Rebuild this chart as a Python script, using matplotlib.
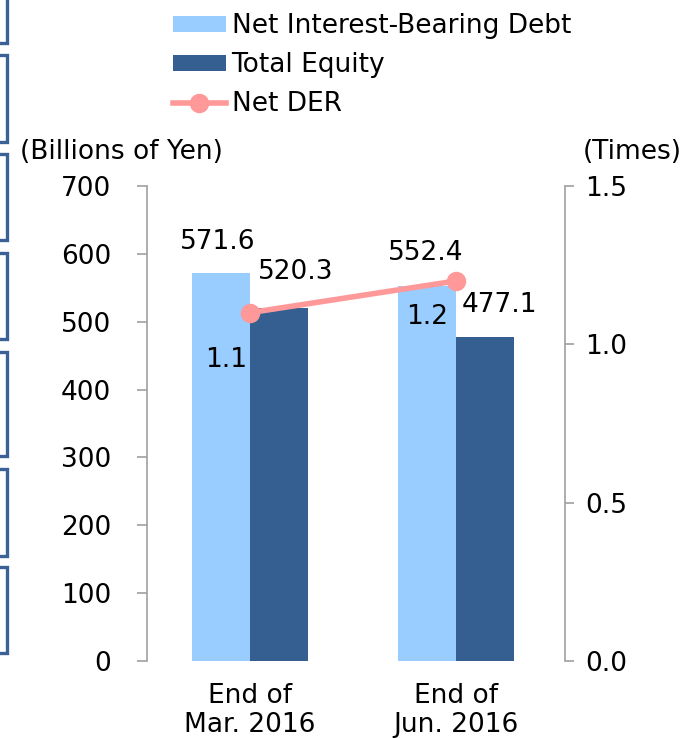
import matplotlib
matplotlib.use("Agg")
import matplotlib.pyplot as plt
from matplotlib.patches import Rectangle
import numpy as np

plt.rcParams['font.family'] = ['DejaVu Sans']

categories = ["End of\nMar. 2016", "End of\nJun. 2016"]
net_debt = [571.6, 552.4]
total_equity = [520.3, 477.1]
net_der = [1.1, 1.2]
left_ticks = [0, 100, 200, 300, 400, 500, 600, 700]
right_ticks = [0.0, 0.5, 1.0, 1.5]

W, H = 685, 738
fig = plt.figure(figsize=(W / 100, H / 100), dpi=100)

def fx(px):
    return px / W

def fy(py):
    return 1 - py / H

PX = 72 / 100  # points per pixel

ax = fig.add_axes([fx(147), fy(661), fx(565) - fx(147), fy(186) - fy(661)])
ax2 = ax.twinx()

light = '#99CCFF'
dark = '#355F91'
pink = '#FF9999'
grey = '#A0A0A0'
fs = 19

x = np.arange(len(categories))
w = 0.28
b1 = ax.bar(x - w / 2, net_debt, w, color=light, label='Net Interest-Bearing Debt', zorder=2)
b2 = ax.bar(x + w / 2, total_equity, w, color=dark, label='Total Equity', zorder=2)
ax.set_ylim(0, 700)
ax.set_xlim(-0.5, 1.53)
ax.set_yticks(left_ticks)
ax.set_yticklabels([str(t) for t in left_ticks], fontsize=fs)
ax.set_xticks(x)
ax.set_xticklabels(categories, fontsize=fs, linespacing=1.17)
ax.tick_params(axis='x', length=0, pad=22 * PX)
ax.tick_params(axis='y', direction='out', length=10 * PX, width=1.2, color=grey, pad=26 * PX)

ln, = ax2.plot(x, net_der, color=pink, lw=4, marker='o', markersize=13, label='Net DER', zorder=5)
ax2.set_ylim(0, 1.5)
ax2.set_yticks(right_ticks)
ax2.set_yticklabels([f"{t:.1f}" for t in right_ticks], fontsize=fs)
ax2.tick_params(axis='y', direction='out', length=9 * PX, width=1.2, color=grey, pad=11 * PX)

for a in (ax, ax2):
    a.spines['top'].set_visible(False)
    a.spines['bottom'].set_visible(False)
    a.spines['left'].set_color(grey)
    a.spines['right'].set_color(grey)
    a.spines['left'].set_linewidth(1.2)
    a.spines['right'].set_linewidth(1.2)
    a.patch.set_visible(False)
ax.spines['right'].set_visible(False)
ax2.spines['left'].set_visible(False)

# bar value labels (offsets in pixels from bar top center)
offs_debt = [(-3, 31), (-1, 33)]
offs_eq = [(17, 36), (15, 32)]
for i, v in enumerate(net_debt):
    ax.annotate(f"{v:.1f}", (x[i] - w / 2, v), xytext=offs_debt[i], textcoords='offset pixels',
                ha='center', va='center', fontsize=fs)
for i, v in enumerate(total_equity):
    ax.annotate(f"{v:.1f}", (x[i] + w / 2, v), xytext=offs_eq[i], textcoords='offset pixels',
                ha='center', va='center', fontsize=fs)
offs_der = [(-24, -47), (-29, -36)]
for i, v in enumerate(net_der):
    ax2.annotate(f"{v:.1f}", (x[i], v), xytext=offs_der[i], textcoords='offset pixels',
                 ha='center', va='center', fontsize=fs, zorder=6)

fig.text(fx(20), fy(152), "(Billions of Yen)", fontsize=fs, ha='left', va='center')
fig.text(fx(682), fy(152), "(Times)", fontsize=fs, ha='right', va='center')

leg = fig.legend([b1, b2, ln], ['Net Interest-Bearing Debt', 'Total Equity', 'Net DER'],
                 loc='upper left', bbox_to_anchor=(fx(173), fy(13)), frameon=False,
                 fontsize=fs, handlelength=2.0, handleheight=0.56, handletextpad=0.22,
                 labelspacing=0.5, borderpad=0, borderaxespad=0)

# decorative cropped boxes at the left edge
box_color = '#3A6296'
boxes = [(-20, 43), (55, 142), (154, 240), (253, 339), (352, 456), (469, 556), (567, 653)]
for top, bot in boxes:
    fig.patches.append(Rectangle((fx(-30), fy(bot)), fx(37), fy(top) - fy(bot),
                                 transform=fig.transFigure, fill=False,
                                 edgecolor=box_color, lw=2.4, figure=fig))

fig.savefig("out.png", dpi=100)
